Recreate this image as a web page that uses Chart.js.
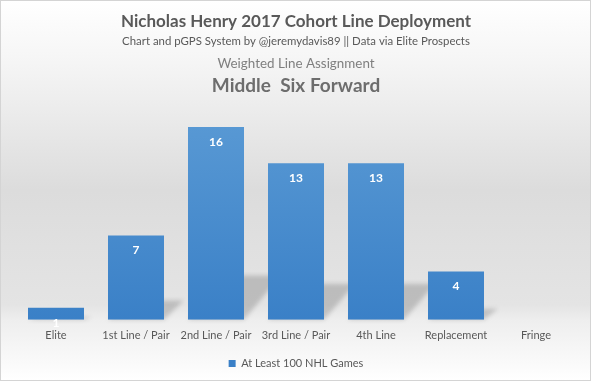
<!DOCTYPE html>
<html>
<head>
<meta charset="utf-8">
<script src="https://cdn.jsdelivr.net/npm/chart.js@4"></script>
<style>
  html, body { margin: 0; padding: 0; background: #fff; }
  #wrap { width: 591px; height: 381px; position: relative; }
</style>
</head>
<body>
<div id="wrap"><canvas id="lineChart" width="591" height="381"></canvas></div>
<script>
// данные графика
const categories = ['Elite', '1st Line / Pair', '2nd Line / Pair', '3rd Line / Pair', '4th Line', 'Replacement', 'Fringe'];
const seriesName = 'At Least 100 NHL Games';
const seriesValues = [1, 7, 16, 13, 13, 4, 0];
const titleLines = [
    'Nicholas Henry 2017 Cohort Line Deployment',
    'Chart and pGPS System by @jeremydavis89 || Data via Elite Prospects',
    'Weighted Line Assignment',
    'Middle  Six Forward'
];

const FONT = 'Lato, "Open Sans", sans-serif';

// фон с градиентом и рамкой
const backgroundPlugin = {
    id: 'bgGradient',
    beforeDraw(chart) {
        const ctx = chart.ctx;
        const w = chart.width, h = chart.height;
        const g = ctx.createLinearGradient(0, 0, 0, h);
        g.addColorStop(0, '#ffffff');
        g.addColorStop(0.15, '#f6f6f6');
        g.addColorStop(0.5, '#dcdcdc');
        g.addColorStop(0.8, '#e4e4e4');
        g.addColorStop(0.84, '#eeeeee');
        g.addColorStop(1, '#ffffff');
        ctx.save();
        ctx.fillStyle = g;
        ctx.fillRect(0, 0, w, h);
        ctx.strokeStyle = '#d4d4d4';
        ctx.lineWidth = 1;
        ctx.strokeRect(0.5, 0.5, w - 1, h - 1);
        ctx.restore();
    }
};

// заголовки сверху
const titlesPlugin = {
    id: 'titles',
    afterDraw(chart) {
        const ctx = chart.ctx;
        const cx = 296;
        ctx.save();
        ctx.textAlign = 'center';
        ctx.textBaseline = 'middle';
        ctx.fillStyle = '#595959';
        ctx.font = 'bold 17px ' + FONT;
        ctx.fillText(titleLines[0], cx, 22);
        ctx.font = '11.4px ' + FONT;
        ctx.fillText(titleLines[1], cx, 41);
        ctx.fillStyle = '#7f7f7f';
        ctx.font = '13.4px ' + FONT;
        ctx.fillText(titleLines[2], cx, 64);
        ctx.fillStyle = '#6d6d6d';
        ctx.font = 'bold 19px ' + FONT;
        ctx.fillText(titleLines[3], cx, 86);
        ctx.restore();
    }
};

// подписи значений внутри столбцов
const valueLabelsPlugin = {
    id: 'valueLabels',
    afterDatasetsDraw(chart) {
        const ctx = chart.ctx;
        const meta = chart.getDatasetMeta(0);
        ctx.save();
        ctx.fillStyle = '#ffffff';
        ctx.font = 'bold 12px ' + FONT;
        ctx.textAlign = 'center';
        ctx.textBaseline = 'middle';
        meta.data.forEach((bar, i) => {
            const v = seriesValues[i];
            if (!v) return;
            ctx.fillText(String(v), bar.x, bar.y + 15);
        });
        ctx.restore();
    }
};

// перспективная тень у основания столбцов
const shadowPlugin = {
    id: 'barShadow',
    beforeDatasetsDraw(chart) {
        const ctx = chart.ctx;
        const meta = chart.getDatasetMeta(0);
        ctx.save();
        ctx.fillStyle = 'rgba(0,0,0,0.17)';
        ctx.filter = 'blur(2px)';
        meta.data.forEach(bar => {
            const half = bar.width / 2;
            const sh = (bar.base - bar.y) * 0.23;
            if (sh <= 0) return;
            const dx = sh * 0.7 + 6;
            ctx.beginPath();
            ctx.moveTo(bar.x - half, bar.base);
            ctx.lineTo(bar.x + half, bar.base);
            ctx.lineTo(bar.x + half + dx, bar.base - sh);
            ctx.lineTo(bar.x - half + dx, bar.base - sh);
            ctx.closePath();
            ctx.fill();
        });
        ctx.restore();
    }
};

function barGradient(context) {
    const chart = context.chart;
    const area = chart.chartArea;
    if (!area) return '#4a8ed0';
    const g = chart.ctx.createLinearGradient(0, area.top, 0, area.bottom);
    g.addColorStop(0, '#5b9bd5');
    g.addColorStop(1, '#3a80c7');
    return g;
}

const ctx = document.getElementById('lineChart').getContext('2d');
const chart = new Chart(ctx, {
    type: 'bar',
    data: {
        labels: categories,
        datasets: [{
            label: seriesName,
            data: seriesValues,
            backgroundColor: barGradient,
            borderWidth: 0,
            categoryPercentage: 1,
            barPercentage: 0.7
        }]
    },
    options: {
        responsive: false,
        animation: false,
        layout: {
            padding: { top: 103, left: 16, right: 15, bottom: 2 }
        },
        scales: {
            x: {
                grid: { display: false },
                border: { display: false },
                ticks: {
                    color: '#595959',
                    font: { family: FONT, size: 11 },
                    padding: 1,
                    maxRotation: 0,
                    autoSkip: false
                }
            },
            y: {
                display: false,
                min: 0,
                max: 18
            }
        },
        plugins: {
            legend: {
                position: 'bottom',
                labels: {
                    color: '#595959',
                    font: { family: FONT, size: 11 },
                    boxWidth: 7,
                    boxHeight: 7,
                    padding: 15
                }
            },
            tooltip: { enabled: false }
        }
    },
    plugins: [backgroundPlugin, shadowPlugin, valueLabelsPlugin, titlesPlugin]
});
</script>
</body>
</html>
